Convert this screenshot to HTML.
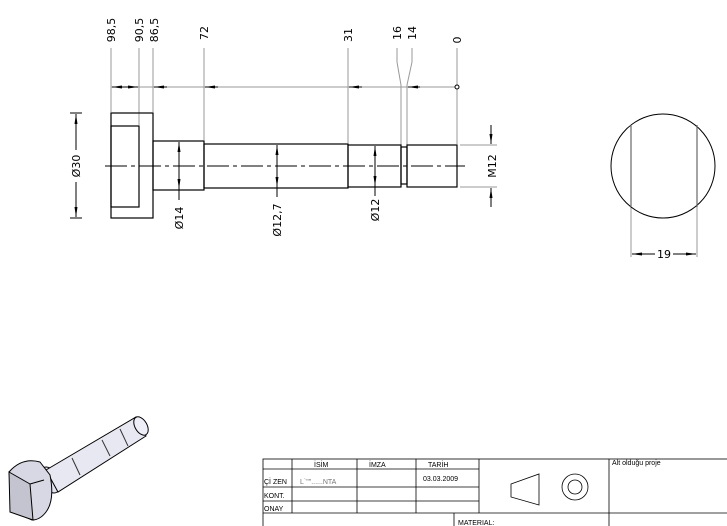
<!DOCTYPE html>
<html><head><style>
body{margin:0;background:#fff;}
svg{display:block;font-family:"DejaVu Sans","Liberation Sans",sans-serif;}
</style></head><body>
<svg width="727" height="526" viewBox="0 0 727 526" xmlns="http://www.w3.org/2000/svg">
<defs>
<marker id="a" markerWidth="10" markerHeight="6" refX="10" refY="3" orient="auto" markerUnits="userSpaceOnUse"><path d="M0,1.5 L10,3 L0,4.5z" fill="#000"/></marker>
</defs>
<g stroke="#999" stroke-width="1" fill="none">
<line x1="111" y1="48" x2="111" y2="112"/>
<line x1="139" y1="48" x2="139" y2="125"/>
<line x1="153" y1="48" x2="153" y2="112"/>
<line x1="204" y1="48" x2="204" y2="140"/>
<line x1="348" y1="48" x2="348" y2="143"/>
<polyline points="397,48 397,62 401,85 401,146"/>
<polyline points="412,48 412,62 407,85 407,146"/>
<line x1="457" y1="48" x2="457" y2="144"/>
<line x1="111" y1="87" x2="457" y2="87"/>
<line x1="460" y1="145" x2="497" y2="145"/>
<line x1="460" y1="187" x2="497" y2="187"/>
<line x1="631" y1="168" x2="631" y2="257"/>
<line x1="697" y1="168" x2="697" y2="257"/>
</g>
<g stroke="#000" stroke-width="1">
<line x1="125" y1="87" x2="112" y2="87" marker-end="url(#a)"/>
<line x1="125" y1="87" x2="138" y2="87" marker-end="url(#a)"/>
<line x1="167" y1="87" x2="154" y2="87" marker-end="url(#a)"/>
<line x1="218" y1="87" x2="205" y2="87" marker-end="url(#a)"/>
<line x1="362" y1="87" x2="349" y2="87" marker-end="url(#a)"/>
<line x1="420" y1="87" x2="408" y2="87" marker-end="url(#a)"/>
<circle cx="457" cy="87" r="2" fill="#fff"/>
</g>
<g fill="none" stroke="#000" stroke-width="1.2">
<rect x="111" y="113" width="42" height="105"/>
<rect x="111" y="126" width="28" height="81"/>
<rect x="153" y="141" width="51" height="49"/>
<rect x="204" y="144" width="144" height="44"/>
<rect x="348" y="145" width="53" height="42"/>
<rect x="401" y="147" width="6" height="37"/>
<rect x="407" y="145" width="50" height="42"/>
<circle cx="663" cy="166" r="52" stroke-width="1"/>
<line x1="631" y1="125" x2="631" y2="207" stroke="#666"/>
<line x1="697" y1="125" x2="697" y2="207" stroke="#666"/>
</g>
<line x1="105" y1="166" x2="465" y2="166" stroke="#000" stroke-width="1" stroke-dasharray="22,4,4,4"/>
<g stroke="#000" stroke-width="1">
<line x1="70" y1="113" x2="82" y2="113"/><line x1="70" y1="218" x2="82" y2="218"/>
<line x1="76" y1="150" x2="76" y2="114" marker-end="url(#a)"/>
<line x1="76" y1="182" x2="76" y2="217" marker-end="url(#a)"/>
<line x1="179" y1="166" x2="179" y2="142" marker-end="url(#a)"/>
<line x1="179" y1="166" x2="179" y2="189" marker-end="url(#a)"/>
<line x1="179" y1="189" x2="179" y2="200"/>
<line x1="277" y1="166" x2="277" y2="145" marker-end="url(#a)"/>
<line x1="277" y1="166" x2="277" y2="187" marker-end="url(#a)"/>
<line x1="277" y1="187" x2="277" y2="197"/>
<line x1="375" y1="166" x2="375" y2="146" marker-end="url(#a)"/>
<line x1="375" y1="166" x2="375" y2="186" marker-end="url(#a)"/>
<line x1="375" y1="186" x2="375" y2="196"/>
<line x1="491" y1="125" x2="491" y2="144" marker-end="url(#a)"/>
<line x1="491" y1="207" x2="491" y2="188" marker-end="url(#a)"/>
<line x1="655" y1="254" x2="632" y2="254" marker-end="url(#a)"/>
<line x1="673" y1="254" x2="696" y2="254" marker-end="url(#a)"/>
</g>
<g font-size="11" fill="#000" text-anchor="middle">
<text transform="translate(115,30) rotate(-90)">98,5</text>
<text transform="translate(143,30) rotate(-90)">90,5</text>
<text transform="translate(158,30) rotate(-90)">86,5</text>
<text transform="translate(208,33) rotate(-90)">72</text>
<text transform="translate(352,35) rotate(-90)">31</text>
<text transform="translate(401,33) rotate(-90)">16</text>
<text transform="translate(416,33) rotate(-90)">14</text>
<text transform="translate(461,40) rotate(-90)">0</text>
<text transform="translate(80,166) rotate(-90)">Ø30</text>
<text transform="translate(183,218) rotate(-90)">Ø14</text>
<text transform="translate(281,220) rotate(-90)">Ø12,7</text>
<text transform="translate(379,210) rotate(-90)">Ø12</text>
<text transform="translate(496,166) rotate(-90)">M12</text>
<text x="664" y="258">19</text>
</g>
<!-- iso part -->
<g stroke="#000" stroke-width="1">
<ellipse cx="50" cy="480" rx="9" ry="14" transform="rotate(-30 50 480)" fill="#e4e4f0"/>
<polygon points="46,470 136,417 146,436 58,492" fill="#e8e8f2"/>
<line x1="72" y1="458" x2="80" y2="475" stroke="#333"/>
<line x1="102" y1="440" x2="110" y2="456" stroke="#333"/>
<line x1="120" y1="429" x2="128" y2="446" stroke="#333"/>
<ellipse cx="141" cy="426" rx="6" ry="10" transform="rotate(-30 141 426)" fill="#eeeef8"/>
<path d="M9,472 Q22,457 40,462 L50,475 Q55,500 46,512 Q40,520 32,520 L14,512 Z" fill="#d8d8e4"/>
<path d="M9,472 L30,484 L33,520 L10,512 Z" fill="#c4c4d0"/>
<line x1="30" y1="484" x2="44" y2="480"/>
</g>
<!-- title block -->
<g stroke="#000" stroke-width="0.8" fill="none">
<rect x="263" y="459" width="470" height="70"/>
<line x1="263" y1="469" x2="479" y2="469"/>
<line x1="263" y1="487" x2="479" y2="487"/>
<line x1="263" y1="501" x2="479" y2="501"/>
<line x1="263" y1="513" x2="727" y2="513"/>
<line x1="292" y1="459" x2="292" y2="513"/>
<line x1="357" y1="459" x2="357" y2="513"/>
<line x1="416" y1="459" x2="416" y2="513"/>
<line x1="479" y1="459" x2="479" y2="513"/>
<line x1="609" y1="459" x2="609" y2="526"/>
<line x1="454" y1="513" x2="454" y2="526"/>
<polygon points="511,484 539,474 539,505 511,497"/>
<circle cx="575" cy="487" r="13"/>
<circle cx="575" cy="487" r="7"/>
</g>
<g font-family="Liberation Sans,sans-serif" font-size="7" fill="#000">
<text x="314" y="467">İSİM</text>
<text x="369" y="467">İMZA</text>
<text x="428" y="467">TARİH</text>
<text x="264" y="484">Çİ ZEN</text>
<text x="300" y="484" fill="#777">L`""......NTA</text>
<text x="423" y="481">03.03.2009</text>
<text x="264" y="498">KONT.</text>
<text x="264" y="511">ONAY</text>
<text x="612" y="465">Alt olduğu proje</text>
<text x="458" y="525">MATERIAL:</text>
</g>
</svg>
</body></html>
